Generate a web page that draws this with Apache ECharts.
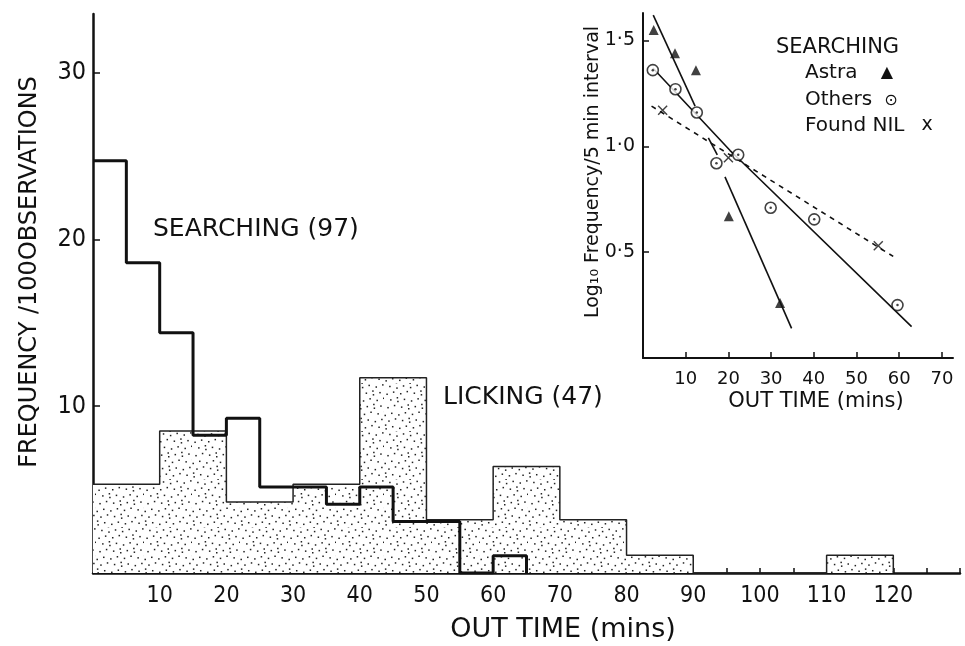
<!DOCTYPE html>
<html><head><meta charset="utf-8">
<script src="https://cdn.jsdelivr.net/npm/echarts@6/dist/echarts.min.js"></script>
<style>html,body{margin:0;padding:0;background:#fff}#c{width:965px;height:646px}</style>
</head><body><div id="c"></div>
<script>
// ---- main histogram data ----
const searchBinStart = [0,5,10,15,20,25,30,35,40,45,50,55,60];
const searchValues   = [24.7,18.6,14.4,8.25,9.28,5.15,5.15,4.12,5.15,3.09,3.09,0,1.03];
const searchEnd = 65;
const lickBinStart = [0,10,20,30,40,50,60,70,80,90,100,110];
const lickValues   = [5.32,8.51,4.26,5.32,11.7,3.19,6.38,3.19,1.06,0,0,1.06];
const lickEnd = 120;
const mainXLabels = [10,20,30,40,50,60,70,80,90,100,110,120];
const mainXTicks = [5,10,15,20,25,30,35,40,45,50,55,60,65,70,75,80,85,90,95,100,105,110,115,120,125,130];
const mainYLabels = [10,20,30];
// ---- inset data ----
const astraX = [2.5,7.5,12.4,20.1,32.1];
const astraY = [1.55,1.44,1.36,0.67,0.26];
const othersX = [2.3,7.6,12.6,17.2,22.3,29.9,40.1,59.6];
const othersY = [1.36,1.27,1.16,0.92,0.96,0.71,0.655,0.25];
const nilX = [4.6,20,55.1];
const nilY = [1.17,0.946,0.53];
const astraFit1 = [[2.4,1.62],[12.2,1.19]];
const astraFit1b = [[15.3,1.04],[17.4,0.96]];
const astraFit2 = [[19.2,0.856],[34.8,0.14]];
const othersFit = [[2.3,1.37],[20.4,0.98],[23.5,0.92],[62.9,0.148]];
const nilFit = [[2.0,1.19],[58.6,0.48]];
const insetXLabels = [10,20,30,40,50,60,70];
const insetYLabels = [0.5,1.0,1.5];

function stepData(starts, vals, end){
  const d = starts.map((s,i)=>[s, vals[i]]);
  d.push([end, 0]);
  return d;
}
function makeStipple(){
  const n=48, c=document.createElement('canvas'); c.width=n; c.height=n;
  const ctx=c.getContext('2d'); ctx.fillStyle='#fff'; ctx.fillRect(0,0,n,n);
  ctx.fillStyle='#222';
  const g=1.32471795724474602596, a1=1/g, a2=1/(g*g);
  for(let i=0;i<58;i++){ const x=((0.5+a1*i)%1)*n, y=((0.5+a2*i)%1)*n; ctx.fillRect(x,y,1.5,1.5); }
  return c;
}
const FONT = "'DejaVu Sans', sans-serif";
const CFONT = "'DejaVu Sans Condensed','Liberation Sans Narrow','DejaVu Sans',sans-serif";
const ink = '#111';
const crossPath = 'path://M0,1L1,0L5,4L9,0L10,1L6,5L10,9L9,10L5,6L1,10L0,9L4,5Z';

const chart = echarts.init(document.getElementById('c'), null, {renderer:'canvas'});
chart.setOption({
  animation:false,
  backgroundColor:'#fff',
  grid:[
    {left:93, top:14, width:867, height:559},
    {left:643, top:13, width:310, height:345}
  ],
  xAxis:[
    {gridIndex:0, type:'value', min:0, max:130,
     axisLine:{show:true, onZero:false, lineStyle:{color:ink, width:2.5}},
     axisTick:{show:true, inside:true, length:5, customValues:mainXTicks, lineStyle:{color:ink,width:1.5}},
     axisLabel:{customValues:mainXLabels, color:ink, fontSize:23, fontFamily:CFONT, margin:12},
     splitLine:{show:false}},
    {gridIndex:1, type:'value', min:0, max:72.6,
     axisLine:{show:true, onZero:false, lineStyle:{color:ink, width:2}},
     axisTick:{show:true, inside:true, length:6, customValues:insetXLabels, lineStyle:{color:ink,width:1.5}},
     axisLabel:{customValues:insetXLabels, color:ink, fontSize:18, fontFamily:FONT, margin:12},
     splitLine:{show:false}}
  ],
  yAxis:[
    {gridIndex:0, type:'value', min:0, max:33.5,
     axisLine:{show:true, onZero:false, lineStyle:{color:ink, width:2.5}},
     axisTick:{show:true, inside:true, length:7, customValues:mainYLabels, lineStyle:{color:ink,width:1.5}},
     axisLabel:{customValues:mainYLabels, color:ink, fontSize:25, fontFamily:CFONT, margin:7},
     splitLine:{show:false}},
    {gridIndex:1, type:'value', min:0, max:1.63,
     axisLine:{show:true, onZero:false, lineStyle:{color:ink, width:2}},
     axisTick:{show:true, inside:true, length:6, customValues:insetYLabels, lineStyle:{color:ink,width:1.5}},
     axisLabel:{customValues:insetYLabels, color:ink, fontSize:19, fontFamily:FONT, margin:8,
       formatter:v=>v.toFixed(1).replace('.', '·')},
     splitLine:{show:false}}
  ],
  series:[
    {type:'line', name:'Licking', xAxisIndex:0, yAxisIndex:0, step:'end', symbol:'none',
     data:stepData(lickBinStart, lickValues, lickEnd),
     lineStyle:{color:'#222', width:1.5},
     areaStyle:{color:{image:makeStipple(), repeat:'repeat'}, opacity:1}, z:2},
    {type:'line', name:'Searching', xAxisIndex:0, yAxisIndex:0, step:'end', symbol:'none',
     data:stepData(searchBinStart, searchValues, searchEnd),
     lineStyle:{color:'#111', width:3}, z:3},
    // inset fitted lines
    {type:'line', xAxisIndex:1, yAxisIndex:1, data:astraFit1, symbol:'none', lineStyle:{color:ink,width:1.6}},
    {type:'line', xAxisIndex:1, yAxisIndex:1, data:astraFit1b, symbol:'none', lineStyle:{color:ink,width:1.6}},
    {type:'line', xAxisIndex:1, yAxisIndex:1, data:astraFit2, symbol:'none', lineStyle:{color:ink,width:1.6}},
    {type:'line', xAxisIndex:1, yAxisIndex:1, data:othersFit, symbol:'none', lineStyle:{color:ink,width:1.6}},
    {type:'line', xAxisIndex:1, yAxisIndex:1, data:nilFit, symbol:'none', lineStyle:{color:ink,width:1.6,type:[5,5]}},
    // inset points
    {type:'scatter', xAxisIndex:1, yAxisIndex:1, symbol:'triangle', symbolSize:10,
     itemStyle:{color:ink}, data:astraX.map((x,i)=>[x,astraY[i]]), z:5},
    {type:'scatter', xAxisIndex:1, yAxisIndex:1, symbol:'circle', symbolSize:11,
     itemStyle:{color:'#fff', borderColor:ink, borderWidth:1.6}, data:othersX.map((x,i)=>[x,othersY[i]]), z:5},
    {type:'scatter', xAxisIndex:1, yAxisIndex:1, symbol:'circle', symbolSize:2.5,
     itemStyle:{color:ink}, data:othersX.map((x,i)=>[x,othersY[i]]), z:6},
    {type:'scatter', xAxisIndex:1, yAxisIndex:1, symbol:crossPath, symbolSize:10,
     itemStyle:{color:ink}, data:nilX.map((x,i)=>[x,nilY[i]]), z:5}
  ],
  graphic:[
    {type:'text', x:30, y:272, rotation:Math.PI/2, style:{text:'FREQUENCY /100OBSERVATIONS', fill:ink, font:'24px '+FONT, textAlign:'center', textVerticalAlign:'middle'}},
    {type:'text', x:153, y:229, style:{text:'SEARCHING (97)', fill:ink, font:'25px '+FONT, textVerticalAlign:'middle'}},
    {type:'text', x:443, y:397, style:{text:'LICKING (47)', fill:ink, font:'25px '+FONT, textVerticalAlign:'middle'}},
    {type:'text', x:563, y:630, style:{text:'OUT TIME (mins)', fill:ink, font:'27px '+FONT, textAlign:'center', textVerticalAlign:'middle'}},
    {type:'text', x:593, y:172, rotation:Math.PI/2, style:{text:'Log₁₀ Frequency/5 min interval', fill:ink, font:'19px '+FONT, textAlign:'center', textVerticalAlign:'middle'}},
    {type:'text', x:816, y:402, style:{text:'OUT TIME (mins)', fill:ink, font:'21px '+FONT, textAlign:'center', textVerticalAlign:'middle'}},
    {type:'text', x:776, y:48, style:{text:'SEARCHING', fill:ink, font:'21px '+FONT, textVerticalAlign:'middle'}},
    {type:'text', x:805, y:73, style:{text:'Astra', fill:ink, font:'20px '+FONT, textVerticalAlign:'middle'}},
    {type:'text', x:887, y:73, style:{text:'▲', fill:ink, font:'16px '+FONT, textAlign:'center', textVerticalAlign:'middle'}},
    {type:'text', x:805, y:100, style:{text:'Others', fill:ink, font:'20px '+FONT, textVerticalAlign:'middle'}},
    {type:'text', x:891, y:101, style:{text:'⊙', fill:ink, font:'16px '+FONT, textAlign:'center', textVerticalAlign:'middle'}},
    {type:'text', x:805, y:126, style:{text:'Found NIL', fill:ink, font:'20px '+FONT, textVerticalAlign:'middle'}},
    {type:'text', x:927, y:125, style:{text:'x', fill:ink, font:'19px '+FONT, textAlign:'center', textVerticalAlign:'middle'}}
  ]
});
</script></body></html>
